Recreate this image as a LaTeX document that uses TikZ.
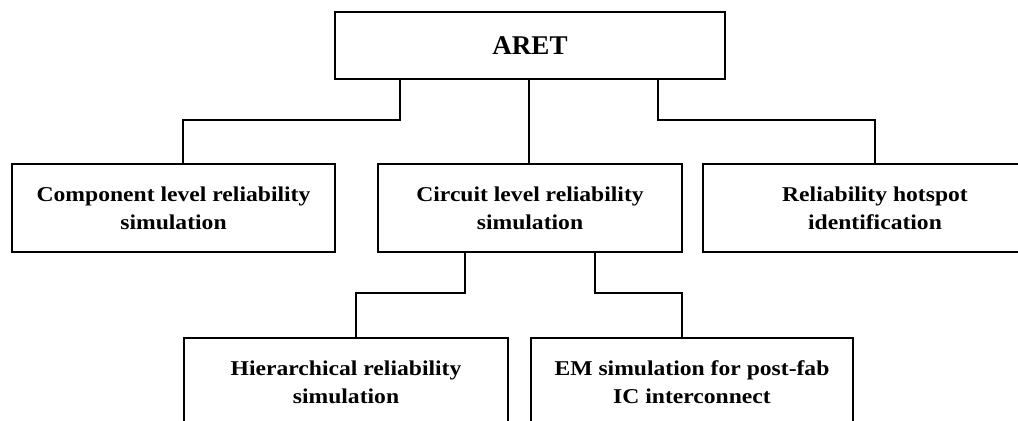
\documentclass[tikz,border=0pt]{standalone}
\usepackage{fontspec}
\setmainfont{Liberation Serif}
\newfontfamily\boxfont{Liberation Serif}[FakeStretch=1.12]
\usetikzlibrary{positioning}
\tikzset{
  block/.style={draw=black, line width=1.5pt, fill=white, align=center, inner sep=0pt,
                minimum height=1.76cm, font=\boxfont\bfseries\fontsize{12}{16}\selectfont},
  wire/.style={draw=black, line width=1.3pt},
}
\begin{document}
\begin{tikzpicture}[x=0.02cm, y=-0.02cm]
\useasboundingbox (0,0) rectangle (1018,420);
% root
\node[block, minimum width=7.8cm, minimum height=1.34cm, font=\bfseries\fontsize{15.4}{18}\selectfont] (aret) at (530,45.5) {ARET};

% second level
\node[block, minimum width=6.46cm] (comp) at (173.5,208) {Component level reliability\\ simulation};
\node[block, minimum width=6.08cm] (circ) at (530,208) {Circuit level reliability\\ simulation};
\node[block, minimum width=6.88cm] (hot) at (875,208) {Reliability hotspot\\ identification};

% third level
\node[block, minimum width=6.48cm] (hier) at (346,382) {Hierarchical reliability\\ simulation};
\node[block, minimum width=6.44cm] (em) at (692,382) {EM simulation for post-fab\\ IC interconnect};

\draw[wire] (aret.south -| 400,0) -- (400,120) -| (comp.north -| 183,0);
\draw[wire] (aret.south -| 529,0) -- (circ.north -| 529,0);
\draw[wire] (aret.south -| 658,0) -- (658,120) -| (hot.north);
\draw[wire] (circ.south -| 465,0) -- (465,293) -| (hier.north -| 356,0);
\draw[wire] (circ.south -| 595,0) -- (595,293) -| (em.north -| 682,0);
\end{tikzpicture}
\end{document}
